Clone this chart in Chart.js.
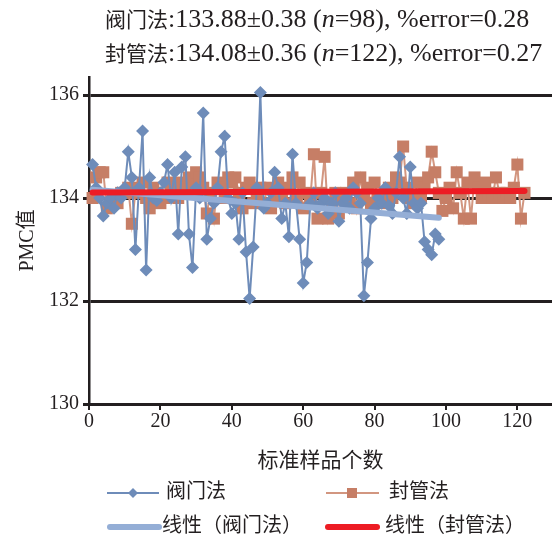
<!DOCTYPE html>
<html>
<head>
<meta charset="utf-8">
<script src="https://cdn.jsdelivr.net/npm/chart.js@4.4.1/dist/chart.umd.min.js"></script>
<style>
  html, body { margin: 0; padding: 0; background: #fff; overflow: hidden; }
  #wrap { width: 552px; height: 538px; position: relative; }
  #chart { display: block; }
</style>
</head>
<body>
<div id="wrap"><canvas id="chart"></canvas></div>
<script>
// 阀门法 (n=98) PMC values, sample 1..98
const valveValues = [
  134.65, 134.2, 134.0, 133.65, 133.9, 134.0, 133.8, 134.1, 134.0, 134.2,
  134.9, 134.4, 133.0, 134.2, 135.3, 132.6, 134.4, 134.0, 133.95, 134.1,
  134.3, 134.65, 134.0, 134.5, 133.3, 134.6, 134.8, 133.3, 132.65, 134.2,
  134.0, 135.65, 133.2, 133.6, 133.9, 134.2, 134.9, 135.2, 134.0, 133.7,
  133.9, 133.2, 134.1, 132.95, 132.05, 133.05, 134.2, 136.05, 133.8, 133.9,
  134.1, 134.5, 134.2, 133.6, 133.9, 133.25, 134.85, 133.9, 133.2, 132.35,
  132.75, 133.9, 134.1, 133.8, 133.9, 134.0, 133.7, 133.9, 134.1, 133.55,
  133.9, 134.0, 133.8, 134.2, 134.1, 133.9, 132.1, 132.75, 133.6, 133.8,
  134.0, 133.9, 134.2, 133.85, 133.7, 134.1, 134.8, 134.0, 133.7, 134.6,
  133.9, 133.8, 133.9, 133.15, 133.0, 132.9, 133.3, 133.2
];

// 封管法 (n=122) PMC values, sample 1..122
const sealedValues = [
  134.0, 134.4, 134.5, 134.5, 133.8, 133.9, 134.0, 133.9, 134.1, 134.1,
  134.2, 133.5, 134.1, 134.2, 134.3, 134.0, 133.8, 134.2, 134.1, 133.9,
  134.0, 134.3, 134.1, 134.2, 134.0, 134.3, 134.2, 134.4, 134.3, 134.5,
  134.4, 134.2, 133.7, 134.1, 133.6, 134.3, 134.2, 134.0, 134.4, 134.3,
  134.4, 134.1, 133.8, 134.2, 134.3, 133.9, 134.0, 134.2, 133.9, 134.2,
  133.8, 134.0, 134.3, 134.1, 133.9, 134.2, 134.4, 134.0, 134.3, 133.8,
  134.1, 134.0, 134.85, 133.6, 134.1, 134.8, 133.6, 133.9, 134.1, 133.7,
  134.0, 134.1, 133.9, 134.3, 133.8, 134.4, 134.0, 134.2, 133.9, 134.3,
  134.0, 133.9, 134.1, 134.2, 134.0, 134.4, 134.3, 135.0, 134.2, 134.0,
  133.9, 134.3, 134.0, 134.2, 134.4, 134.9, 134.5, 134.1, 133.75, 134.0,
  134.2, 133.8, 134.5, 134.1, 133.6, 134.3, 133.6, 134.4, 134.2, 134.0,
  134.3, 134.1, 134.0, 134.4, 134.1, 134.0, 134.1, 134.0, 134.2, 134.65,
  133.6, 134.1
];

const seriesNames = ['阀门法', '封管法'];
const trendNames = ['线性（阀门法）', '线性（封管法）'];
const yTicks = [130, 132, 134, 136];
const xTicks = [0, 20, 40, 60, 80, 100, 120];

// title text: [method name, text before n, n (italic), rest]
const titleLines = [
  ['阀门法', ':133.88±0.38 (', 'n', '=98), %error=0.28'],
  ['封管法', ':134.08±0.36 (', 'n', '=122), %error=0.27']
];

const BLUE = 'rgb(110,140,185)';
const BROWN = 'rgb(198,126,102)';
const BROWN_LINE = 'rgb(210,150,128)';
const BLUE_TREND = 'rgb(148,174,214)';
const RED_TREND = 'rgb(237,28,36)';
const INK = '#231f20';
const SERIF = '"Liberation Serif", "Noto Sans CJK SC", serif';

function toPoints(values) {
  return values.map((v, i) => ({ x: i + 1, y: v }));
}

// least squares trend line over the data range
function trend(values) {
  const n = values.length;
  let sx = 0, sy = 0, sxx = 0, sxy = 0;
  values.forEach((v, i) => {
    const x = i + 1;
    sx += x; sy += v; sxx += x * x; sxy += x * v;
  });
  const b = (n * sxy - sx * sy) / (n * sxx - sx * sx);
  const a = (sy - b * sx) / n;
  return [{ x: 1, y: a + b }, { x: n, y: a + b * n }];
}

const titlePlugin = {
  id: 'twoLineTitle',
  afterDraw(chart) {
    const ctx = chart.ctx;
    ctx.save();
    ctx.fillStyle = INK;
    ctx.textBaseline = 'alphabetic';
    const baselines = [27, 61];
    const fonts = ['21px ' + SERIF, '26px ' + SERIF, 'italic 26px ' + SERIF, '26px ' + SERIF];
    titleLines.forEach((parts, r) => {
      let x = 105;
      parts.forEach((txt, k) => {
        ctx.font = fonts[k];
        ctx.fillText(txt, x, baselines[r]);
        x += ctx.measureText(txt).width;
      });
    });
    ctx.restore();
  }
};

const legendPlugin = {
  id: 'gridLegend',
  afterDraw(chart) {
    const ctx = chart.ctx;
    ctx.save();
    ctx.font = '20px ' + SERIF;
    ctx.textBaseline = 'middle';
    const row1 = 493, row2 = 527;
    // 阀门法
    ctx.strokeStyle = BLUE; ctx.lineWidth = 2;
    ctx.beginPath(); ctx.moveTo(107, row1); ctx.lineTo(159, row1); ctx.stroke();
    ctx.fillStyle = BLUE;
    ctx.beginPath();
    ctx.moveTo(133, row1 - 5); ctx.lineTo(138, row1); ctx.lineTo(133, row1 + 5); ctx.lineTo(128, row1);
    ctx.closePath(); ctx.fill();
    // 封管法
    ctx.strokeStyle = BROWN_LINE; ctx.lineWidth = 2;
    ctx.beginPath(); ctx.moveTo(326, row1); ctx.lineTo(379, row1); ctx.stroke();
    ctx.fillStyle = BROWN;
    ctx.fillRect(347, row1 - 5, 10, 10);
    // trends
    ctx.lineCap = 'round'; ctx.lineWidth = 6;
    ctx.strokeStyle = BLUE_TREND;
    ctx.beginPath(); ctx.moveTo(110, row2); ctx.lineTo(159, row2); ctx.stroke();
    ctx.strokeStyle = RED_TREND;
    ctx.beginPath(); ctx.moveTo(328, row2); ctx.lineTo(377, row2); ctx.stroke();
    ctx.fillStyle = INK;
    ctx.fillText(seriesNames[0], 166, row1);
    ctx.fillText(seriesNames[1], 389, row1);
    ctx.fillText(trendNames[0], 162, row2);
    ctx.fillText(trendNames[1], 385, row2);
    ctx.restore();
  }
};

new Chart(document.getElementById('chart'), {
  type: 'scatter',
  data: {
    datasets: [
      {
        label: seriesNames[0],
        data: toPoints(valveValues),
        showLine: true,
        borderColor: BLUE,
        borderWidth: 2,
        pointStyle: 'rectRot',
        pointRadius: 6.5,
        pointBackgroundColor: BLUE,
        pointBorderColor: BLUE,
        pointBorderWidth: 0,
        clip: false,
        order: 2
      },
      {
        label: seriesNames[1],
        data: toPoints(sealedValues),
        showLine: true,
        borderColor: BROWN_LINE,
        borderWidth: 2,
        pointStyle: 'rect',
        pointRadius: 8.5,
        pointBackgroundColor: BROWN,
        pointBorderColor: BROWN,
        pointBorderWidth: 0,
        clip: false,
        order: 3
      },
      {
        label: trendNames[0],
        data: trend(valveValues),
        showLine: true,
        borderColor: BLUE_TREND,
        borderWidth: 6,
        borderCapStyle: 'round',
        pointRadius: 0,
        clip: false,
        order: 1
      },
      {
        label: trendNames[1],
        data: trend(sealedValues),
        showLine: true,
        borderColor: RED_TREND,
        borderWidth: 6,
        borderCapStyle: 'round',
        pointRadius: 0,
        clip: false,
        order: 0
      }
    ]
  },
  options: {
    responsive: true,
    maintainAspectRatio: false,
    animation: false,
    devicePixelRatio: 1,
    layout: { autoPadding: false, padding: { top: 77, left: 12, right: 0, bottom: 62 } },
    plugins: {
      legend: { display: false },
      tooltip: { enabled: false },
      title: { display: false }
    },
    scales: {
      x: {
        type: 'linear',
        min: 0,
        max: 129.7,
        afterFit(scale) { scale.height = 72; },
        afterBuildTicks(scale) { scale.ticks = xTicks.map(v => ({ value: v })); },
        ticks: { color: INK, font: { family: SERIF, size: 20 }, padding: 0, maxRotation: 0 },
        grid: { drawOnChartArea: false, drawTicks: true, tickLength: 6, color: INK, lineWidth: 2 },
        border: { color: INK, width: 3 },
        title: { display: true, text: '标准样品个数', color: INK, font: { family: SERIF, size: 21 }, padding: { top: 4, bottom: 2 } }
      },
      y: {
        min: 130,
        max: 136.35,
        afterFit(scale) { scale.width = 77; },
        afterBuildTicks(scale) { scale.ticks = yTicks.map(v => ({ value: v })); },
        ticks: { color: INK, font: { family: SERIF, size: 20 }, padding: 4 },
        grid: { color: INK, lineWidth: 3, drawTicks: true, tickLength: 6 },
        border: { color: INK, width: 2.5 },
        title: { display: true, text: 'PMC值', color: INK, font: { family: SERIF, size: 20 }, padding: { top: 4, bottom: 4 } }
      }
    }
  },
  plugins: [titlePlugin, legendPlugin]
});
</script>
</body>
</html>
